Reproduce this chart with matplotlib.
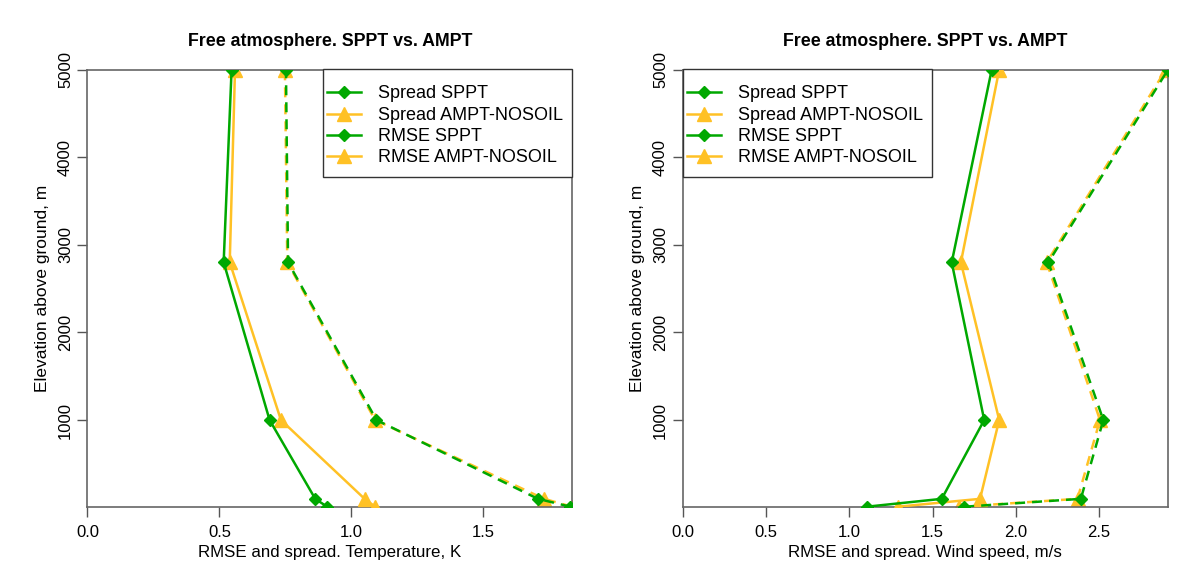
import numpy as np
import matplotlib.pyplot as plt
from matplotlib.patches import Rectangle

plt.rcParams['font.family'] = ['Liberation Sans', 'DejaVu Sans']

# elevation levels, m
elev = [10, 100, 1000, 2800, 5000]

# temperature, K
t_spread_sppt = [0.908, 0.863, 0.690, 0.516, 0.546]
t_spread_ampt = [1.090, 1.050, 0.733, 0.539, 0.559]
t_rmse_sppt = [1.830, 1.707, 1.095, 0.760, 0.752]
t_rmse_ampt = [1.836, 1.730, 1.090, 0.757, 0.748]

# wind speed, m/s
w_spread_sppt = [1.104, 1.555, 1.810, 1.615, 1.855]
w_spread_ampt = [1.290, 1.785, 1.900, 1.670, 1.900]
w_rmse_sppt = [1.690, 2.390, 2.525, 2.195, 2.913]
w_rmse_ampt = [1.660, 2.370, 2.505, 2.185, 2.900]

green = '#00a800'
orange = '#ffc125'
title = 'Free atmosphere. SPPT vs. AMPT'

W, H = 1200, 585
fig = plt.figure(figsize=(12, 5.85), dpi=100)
ax1 = fig.add_axes([0.0729, 0.1338, 0.4038, 0.7471])
ax2 = fig.add_axes([0.5689, 0.1338, 0.4044, 0.7471])

# legend box in pixels: (left, right), top 69, bottom 177
panels = [
    (ax1, t_spread_sppt, t_spread_ampt, t_rmse_sppt, t_rmse_ampt,
     'RMSE and spread. Temperature, K', [0.0, 0.5, 1.0, 1.5], (323, 572)),
    (ax2, w_spread_sppt, w_spread_ampt, w_rmse_sppt, w_rmse_ampt,
     'RMSE and spread. Wind speed, m/s', [0.0, 0.5, 1.0, 1.5, 2.0, 2.5], (683, 932)),
]

dash = (0, (4, 2.8))

for ax, ss, sa, rs, ra, xlab, xt, (bl, br) in panels:
    ax.plot(ss, elev, color=green, lw=1.8, marker='D', ms=6,
            label='Spread SPPT', zorder=4)
    ax.plot(sa, elev, color=orange, lw=1.8, marker='^', ms=10,
            label='Spread AMPT-NOSOIL', zorder=3)
    ax.plot(ra, elev, color=orange, lw=1.8, ls=dash, marker='^', ms=10,
            zorder=2)
    ax.plot(rs, elev, color=green, lw=1.8, ls=dash, marker='D', ms=6,
            zorder=3)
    # legend handles for RMSE are solid
    ax.plot([], [], color=green, lw=1.8, marker='D', ms=6, label='RMSE SPPT')
    ax.plot([], [], color=orange, lw=1.8, marker='^', ms=10, label='RMSE AMPT-NOSOIL')

    xmax = max(max(rs), max(ra))
    ax.set_xlim(0, xmax)
    ax.set_ylim(10, 5000)
    ax.set_xticks(xt)
    ax.set_xticklabels(['%.1f' % v for v in xt], fontsize=12)
    ax.set_yticks([1000, 2000, 3000, 4000, 5000])
    ax.set_yticklabels(['1000', '2000', '3000', '4000', '5000'],
                       fontsize=12, rotation=90, va='center')
    ax.tick_params(direction='out', length=7, color='#555555', width=1, pad=6)
    ax.tick_params(axis='y', pad=3.5)
    for s in ax.spines.values():
        s.set_color('#666666')
        s.set_linewidth(1.2)
    ax.set_xlabel(xlab, fontsize=12.2, labelpad=4)
    ax.set_ylabel('Elevation above ground, m', fontsize=12.5, labelpad=6)
    ax.set_title(title, fontsize=12.8, fontweight='bold', pad=17)

    # legend frame drawn by hand so padding matches
    box = Rectangle((bl / W, 1 - 177 / H), (br - bl) / W, (177 - 69) / H,
                    transform=fig.transFigure, facecolor='white',
                    edgecolor='#333333', lw=1.0, zorder=9, clip_on=False)
    ax.add_patch(box)
    leg = ax.legend(loc='upper left', bbox_to_anchor=((bl + 4) / W, 1 - 85.5 / H),
                    bbox_transform=fig.transFigure, frameon=False,
                    borderaxespad=0, borderpad=0, fontsize=13,
                    handlelength=1.9, handletextpad=0.9, labelspacing=0.24)
    leg.set_zorder(10)

fig.savefig('out.png', dpi=100)
